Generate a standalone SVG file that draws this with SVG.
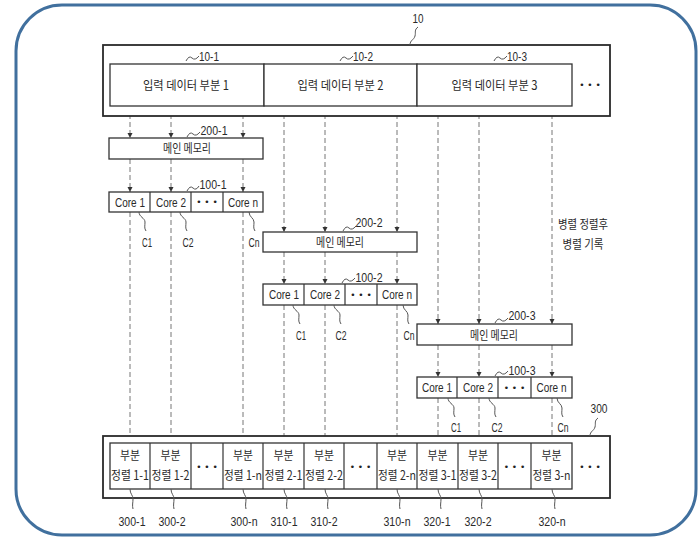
<svg xmlns="http://www.w3.org/2000/svg" width="698" height="542" viewBox="0 0 698 542">
<style>
.frame{fill:none;stroke:#41709e;stroke-width:3}
.outer{fill:#fff;stroke:#2a2a2a;stroke-width:1.8}
.box{fill:#fff;stroke:#333;stroke-width:1.3}
.div{stroke:#333;stroke-width:1.2}
.dash{fill:none;stroke:#777;stroke-width:1;stroke-dasharray:5 3;marker-end:url(#ah)}
.lead{fill:none;stroke:#555;stroke-width:1}
.ko{font-family:"Noto Sans CJK KR","Noto Sans",sans-serif;font-size:12.5px;fill:#2a2a2a;text-anchor:middle}
.la{font-family:"Liberation Sans","DejaVu Sans",sans-serif;font-size:13px;fill:#2a2a2a;text-anchor:middle}
.dots{font-family:"DejaVu Sans",sans-serif;font-size:9px;fill:#222;text-anchor:middle}
</style>
<defs>
<marker id="ah" markerWidth="6" markerHeight="6" refX="5" refY="3" orient="auto" markerUnits="userSpaceOnUse">
<path d="M0,0.5 L5,3 L0,5.5 Z" fill="#333"/>
</marker>
</defs>
<rect width="698" height="542" fill="#fff"/>
<rect class="frame" x="16" y="5" width="680" height="530" rx="46" ry="46"/>

<g id="connectors">
<line class="dash" x1="130" y1="106" x2="130" y2="138"/>
<line class="dash" x1="171" y1="106" x2="171" y2="138"/>
<line class="dash" x1="243" y1="106" x2="243" y2="138"/>
<line class="dash" x1="130" y1="159" x2="130" y2="192"/>
<line class="dash" x1="171" y1="159" x2="171" y2="192"/>
<line class="dash" x1="243" y1="159" x2="243" y2="192"/>
<line class="dash" x1="130" y1="212" x2="130" y2="443"/>
<line class="dash" x1="171" y1="212" x2="171" y2="443"/>
<line class="dash" x1="243" y1="212" x2="243" y2="443"/>

<line class="dash" x1="284" y1="106" x2="284" y2="232"/>
<line class="dash" x1="325" y1="106" x2="325" y2="232"/>
<line class="dash" x1="397" y1="106" x2="397" y2="232"/>
<line class="dash" x1="284" y1="252" x2="284" y2="284"/>
<line class="dash" x1="325" y1="252" x2="325" y2="284"/>
<line class="dash" x1="397" y1="252" x2="397" y2="284"/>
<line class="dash" x1="284" y1="305" x2="284" y2="443"/>
<line class="dash" x1="325" y1="305" x2="325" y2="443"/>
<line class="dash" x1="397" y1="305" x2="397" y2="443"/>

<line class="dash" x1="438" y1="106" x2="438" y2="324"/>
<line class="dash" x1="479" y1="106" x2="479" y2="324"/>
<line class="dash" x1="552" y1="106" x2="552" y2="324"/>
<line class="dash" x1="438" y1="345" x2="438" y2="377"/>
<line class="dash" x1="479" y1="345" x2="479" y2="377"/>
<line class="dash" x1="552" y1="345" x2="552" y2="377"/>
<line class="dash" x1="438" y1="398" x2="438" y2="443"/>
<line class="dash" x1="479" y1="398" x2="479" y2="443"/>
<line class="dash" x1="552" y1="398" x2="552" y2="443"/>
</g>

<g id="input-10">
<rect class="outer" x="103" y="45" width="507" height="71"/>
<path class="lead" d="M410,45 c0,-5 4,-5 5,-9 s-1,-6 3,-9"/>
<text class="la" x="418" y="23" textLength="11" lengthAdjust="spacingAndGlyphs">10</text>
<text class="dots" x="590" y="88">• • •</text>
</g>
<g id="input-10-1">
<rect class="box" x="110" y="64" width="154" height="42"/>
<text class="ko" x="186" y="90" textLength="86" lengthAdjust="spacingAndGlyphs">입력 데이터 부분 1</text>
<path class="lead" d="M186,61 q3,-6 6,-3 t7,-2"/>
<text class="la" x="209" y="61" textLength="20" lengthAdjust="spacingAndGlyphs">10-1</text>
</g>
<g id="input-10-2">
<rect class="box" x="264" y="64" width="153" height="42"/>
<text class="ko" x="340.5" y="90" textLength="86" lengthAdjust="spacingAndGlyphs">입력 데이터 부분 2</text>
<path class="lead" d="M340,61 q3,-6 6,-3 t7,-2"/>
<text class="la" x="363" y="61" textLength="20" lengthAdjust="spacingAndGlyphs">10-2</text>
</g>
<g id="input-10-3">
<rect class="box" x="417" y="64" width="155" height="42"/>
<text class="ko" x="494.5" y="90" textLength="86" lengthAdjust="spacingAndGlyphs">입력 데이터 부분 3</text>
<path class="lead" d="M494,61 q3,-6 6,-3 t7,-2"/>
<text class="la" x="517" y="61" textLength="20" lengthAdjust="spacingAndGlyphs">10-3</text>
</g>

<g id="mem-200-1">
<rect class="box" x="109" y="138" width="154" height="21"/>
<text class="ko" x="187" y="153" textLength="48" lengthAdjust="spacingAndGlyphs">메인 메모리</text>
<path class="lead" d="M187,137 q3,-6 6,-3 t7,-2"/>
<text class="la" x="214" y="135" textLength="27" lengthAdjust="spacingAndGlyphs">200-1</text>
</g>
<g id="core-100-1">
<rect class="box" x="109" y="192" width="154" height="20"/>
<line class="div" x1="150" y1="192" x2="150" y2="212"/>
<line class="div" x1="191" y1="192" x2="191" y2="212"/>
<line class="div" x1="223" y1="192" x2="223" y2="212"/>
<text class="la" x="130" y="206.5" textLength="30" lengthAdjust="spacingAndGlyphs">Core 1</text>
<text class="la" x="171" y="206.5" textLength="30" lengthAdjust="spacingAndGlyphs">Core 2</text>
<text class="dots" x="207" y="205">• • •</text>
<text class="la" x="243" y="206.5" textLength="30" lengthAdjust="spacingAndGlyphs">Core n</text>
<path class="lead" d="M187,191 q3,-6 6,-3 t6,-2"/>
<text class="la" x="213" y="189" textLength="27" lengthAdjust="spacingAndGlyphs">100-1</text>
<path class="lead" d="M139,212 c0,5 6,6 6,10 s-1,6 1,9"/>
<text class="la" x="147" y="247" textLength="10" lengthAdjust="spacingAndGlyphs">C1</text>
<path class="lead" d="M180,212 c0,5 6,6 6,10 s-1,6 1,9"/>
<text class="la" x="188" y="247" textLength="11" lengthAdjust="spacingAndGlyphs">C2</text>
<path class="lead" d="M249,212 c0,5 5,6 5,10 s-1,6 1,9"/>
<text class="la" x="254" y="247" textLength="11" lengthAdjust="spacingAndGlyphs">Cn</text>
</g>

<g id="mem-200-2">
<rect class="box" x="263" y="232" width="154" height="20"/>
<text class="ko" x="340" y="247" textLength="48" lengthAdjust="spacingAndGlyphs">메인 메모리</text>
<path class="lead" d="M343,231 q3,-6 6,-3 t7,-2"/>
<text class="la" x="369" y="227" textLength="27" lengthAdjust="spacingAndGlyphs">200-2</text>
</g>
<g id="core-100-2">
<rect class="box" x="263" y="284" width="154" height="21"/>
<line class="div" x1="304" y1="284" x2="304" y2="305"/>
<line class="div" x1="345" y1="284" x2="345" y2="305"/>
<line class="div" x1="377" y1="284" x2="377" y2="305"/>
<text class="la" x="284" y="299" textLength="30" lengthAdjust="spacingAndGlyphs">Core 1</text>
<text class="la" x="325" y="299" textLength="30" lengthAdjust="spacingAndGlyphs">Core 2</text>
<text class="dots" x="361" y="298">• • •</text>
<text class="la" x="397" y="299" textLength="30" lengthAdjust="spacingAndGlyphs">Core n</text>
<path class="lead" d="M342,283 q3,-6 6,-3 t7,-2"/>
<text class="la" x="369" y="282" textLength="27" lengthAdjust="spacingAndGlyphs">100-2</text>
<path class="lead" d="M293,305 c0,5 6,6 6,10 s-1,6 1,9"/>
<text class="la" x="301" y="340" textLength="10" lengthAdjust="spacingAndGlyphs">C1</text>
<path class="lead" d="M334,305 c0,5 6,6 6,10 s-1,6 1,9"/>
<text class="la" x="341" y="340" textLength="11" lengthAdjust="spacingAndGlyphs">C2</text>
<path class="lead" d="M403,305 c0,5 5,6 5,10 s-1,6 1,9"/>
<text class="la" x="409" y="340" textLength="11" lengthAdjust="spacingAndGlyphs">Cn</text>
</g>

<g id="mem-200-3">
<rect class="box" x="417" y="324" width="155" height="21"/>
<text class="ko" x="494" y="339.5" textLength="48" lengthAdjust="spacingAndGlyphs">메인 메모리</text>
<path class="lead" d="M495,323 q3,-6 6,-3 t7,-2"/>
<text class="la" x="522" y="320" textLength="27" lengthAdjust="spacingAndGlyphs">200-3</text>
</g>
<g id="core-100-3">
<rect class="box" x="417" y="377" width="155" height="21"/>
<line class="div" x1="457" y1="377" x2="457" y2="398"/>
<line class="div" x1="498" y1="377" x2="498" y2="398"/>
<line class="div" x1="531" y1="377" x2="531" y2="398"/>
<text class="la" x="437" y="392" textLength="30" lengthAdjust="spacingAndGlyphs">Core 1</text>
<text class="la" x="478" y="392" textLength="30" lengthAdjust="spacingAndGlyphs">Core 2</text>
<text class="dots" x="514.5" y="391">• • •</text>
<text class="la" x="551.5" y="392" textLength="30" lengthAdjust="spacingAndGlyphs">Core n</text>
<path class="lead" d="M495,376 q3,-6 6,-3 t7,-2"/>
<text class="la" x="522" y="375" textLength="27" lengthAdjust="spacingAndGlyphs">100-3</text>
<path class="lead" d="M448,398 c0,5 6,6 6,10 s-1,6 1,9"/>
<text class="la" x="456" y="432" textLength="10" lengthAdjust="spacingAndGlyphs">C1</text>
<path class="lead" d="M489,398 c0,5 6,6 6,10 s-1,6 1,9"/>
<text class="la" x="497" y="432" textLength="11" lengthAdjust="spacingAndGlyphs">C2</text>
<path class="lead" d="M557,398 c0,5 5,6 5,10 s-1,6 1,9"/>
<text class="la" x="563" y="432" textLength="11" lengthAdjust="spacingAndGlyphs">Cn</text>
</g>

<g id="note">
<text class="ko" x="583" y="229" textLength="50" lengthAdjust="spacingAndGlyphs">병렬 정렬후</text>
<text class="ko" x="583" y="249" textLength="41" lengthAdjust="spacingAndGlyphs">병렬 기록</text>
</g>

<g id="output-300">
<rect class="outer" x="103" y="436" width="507" height="62"/>
<rect class="box" x="110" y="443" width="462" height="46"/>
<line class="div" x1="150" y1="443" x2="150" y2="489"/>
<line class="div" x1="191" y1="443" x2="191" y2="489"/>
<line class="div" x1="223" y1="443" x2="223" y2="489"/>
<line class="div" x1="263" y1="443" x2="263" y2="489"/>
<line class="div" x1="304" y1="443" x2="304" y2="489"/>
<line class="div" x1="344" y1="443" x2="344" y2="489"/>
<line class="div" x1="377" y1="443" x2="377" y2="489"/>
<line class="div" x1="417" y1="443" x2="417" y2="489"/>
<line class="div" x1="458" y1="443" x2="458" y2="489"/>
<line class="div" x1="498" y1="443" x2="498" y2="489"/>
<line class="div" x1="531" y1="443" x2="531" y2="489"/>
<path class="lead" d="M590,436 c0,-5 4,-5 5,-9 s-1,-6 3,-9"/>
<text class="la" x="599" y="413" textLength="17" lengthAdjust="spacingAndGlyphs">300</text>
<text class="dots" x="590" y="470">• • •</text>
<text class="dots" x="207" y="470">• • •</text>
<text class="dots" x="360.5" y="470">• • •</text>
<text class="dots" x="514.5" y="470">• • •</text>
</g>
<g id="cell-300-1">
<text class="ko" x="130" y="460" textLength="20" lengthAdjust="spacingAndGlyphs">부분</text>
<text class="ko" x="130" y="480" textLength="38" lengthAdjust="spacingAndGlyphs">정렬 1-1</text>
<path class="lead" d="M130,489 c0,5 3,6 3,10 s-1,6 0,10"/>
<text class="la" x="132" y="526" textLength="27" lengthAdjust="spacingAndGlyphs">300-1</text>
</g>
<g id="cell-300-2">
<text class="ko" x="170.5" y="460" textLength="20" lengthAdjust="spacingAndGlyphs">부분</text>
<text class="ko" x="170.5" y="480" textLength="38" lengthAdjust="spacingAndGlyphs">정렬 1-2</text>
<path class="lead" d="M171,489 c0,5 3,6 3,10 s-1,6 0,10"/>
<text class="la" x="172" y="526" textLength="27" lengthAdjust="spacingAndGlyphs">300-2</text>
</g>
<g id="cell-300-n">
<text class="ko" x="243" y="460" textLength="20" lengthAdjust="spacingAndGlyphs">부분</text>
<text class="ko" x="243" y="480" textLength="38" lengthAdjust="spacingAndGlyphs">정렬 1-n</text>
<path class="lead" d="M243,489 c0,5 3,6 3,10 s-1,6 0,10"/>
<text class="la" x="244" y="526" textLength="27" lengthAdjust="spacingAndGlyphs">300-n</text>
</g>
<g id="cell-310-1">
<text class="ko" x="283.5" y="460" textLength="20" lengthAdjust="spacingAndGlyphs">부분</text>
<text class="ko" x="283.5" y="480" textLength="38" lengthAdjust="spacingAndGlyphs">정렬 2-1</text>
<path class="lead" d="M284,489 c0,5 3,6 3,10 s-1,6 0,10"/>
<text class="la" x="284" y="526" textLength="27" lengthAdjust="spacingAndGlyphs">310-1</text>
</g>
<g id="cell-310-2">
<text class="ko" x="324" y="460" textLength="20" lengthAdjust="spacingAndGlyphs">부분</text>
<text class="ko" x="324" y="480" textLength="38" lengthAdjust="spacingAndGlyphs">정렬 2-2</text>
<path class="lead" d="M325,489 c0,5 3,6 3,10 s-1,6 0,10"/>
<text class="la" x="324" y="526" textLength="27" lengthAdjust="spacingAndGlyphs">310-2</text>
</g>
<g id="cell-310-n">
<text class="ko" x="397" y="460" textLength="20" lengthAdjust="spacingAndGlyphs">부분</text>
<text class="ko" x="397" y="480" textLength="38" lengthAdjust="spacingAndGlyphs">정렬 2-n</text>
<path class="lead" d="M397,489 c0,5 3,6 3,10 s-1,6 0,10"/>
<text class="la" x="397" y="526" textLength="27" lengthAdjust="spacingAndGlyphs">310-n</text>
</g>
<g id="cell-320-1">
<text class="ko" x="437.5" y="460" textLength="20" lengthAdjust="spacingAndGlyphs">부분</text>
<text class="ko" x="437.5" y="480" textLength="38" lengthAdjust="spacingAndGlyphs">정렬 3-1</text>
<path class="lead" d="M438,489 c0,5 3,6 3,10 s-1,6 0,10"/>
<text class="la" x="437" y="526" textLength="27" lengthAdjust="spacingAndGlyphs">320-1</text>
</g>
<g id="cell-320-2">
<text class="ko" x="478" y="460" textLength="20" lengthAdjust="spacingAndGlyphs">부분</text>
<text class="ko" x="478" y="480" textLength="38" lengthAdjust="spacingAndGlyphs">정렬 3-2</text>
<path class="lead" d="M479,489 c0,5 3,6 3,10 s-1,6 0,10"/>
<text class="la" x="478" y="526" textLength="27" lengthAdjust="spacingAndGlyphs">320-2</text>
</g>
<g id="cell-320-n">
<text class="ko" x="551.5" y="460" textLength="20" lengthAdjust="spacingAndGlyphs">부분</text>
<text class="ko" x="551.5" y="480" textLength="38" lengthAdjust="spacingAndGlyphs">정렬 3-n</text>
<path class="lead" d="M552,489 c0,5 3,6 3,10 s-1,6 0,10"/>
<text class="la" x="552" y="526" textLength="27" lengthAdjust="spacingAndGlyphs">320-n</text>
</g>
</svg>
